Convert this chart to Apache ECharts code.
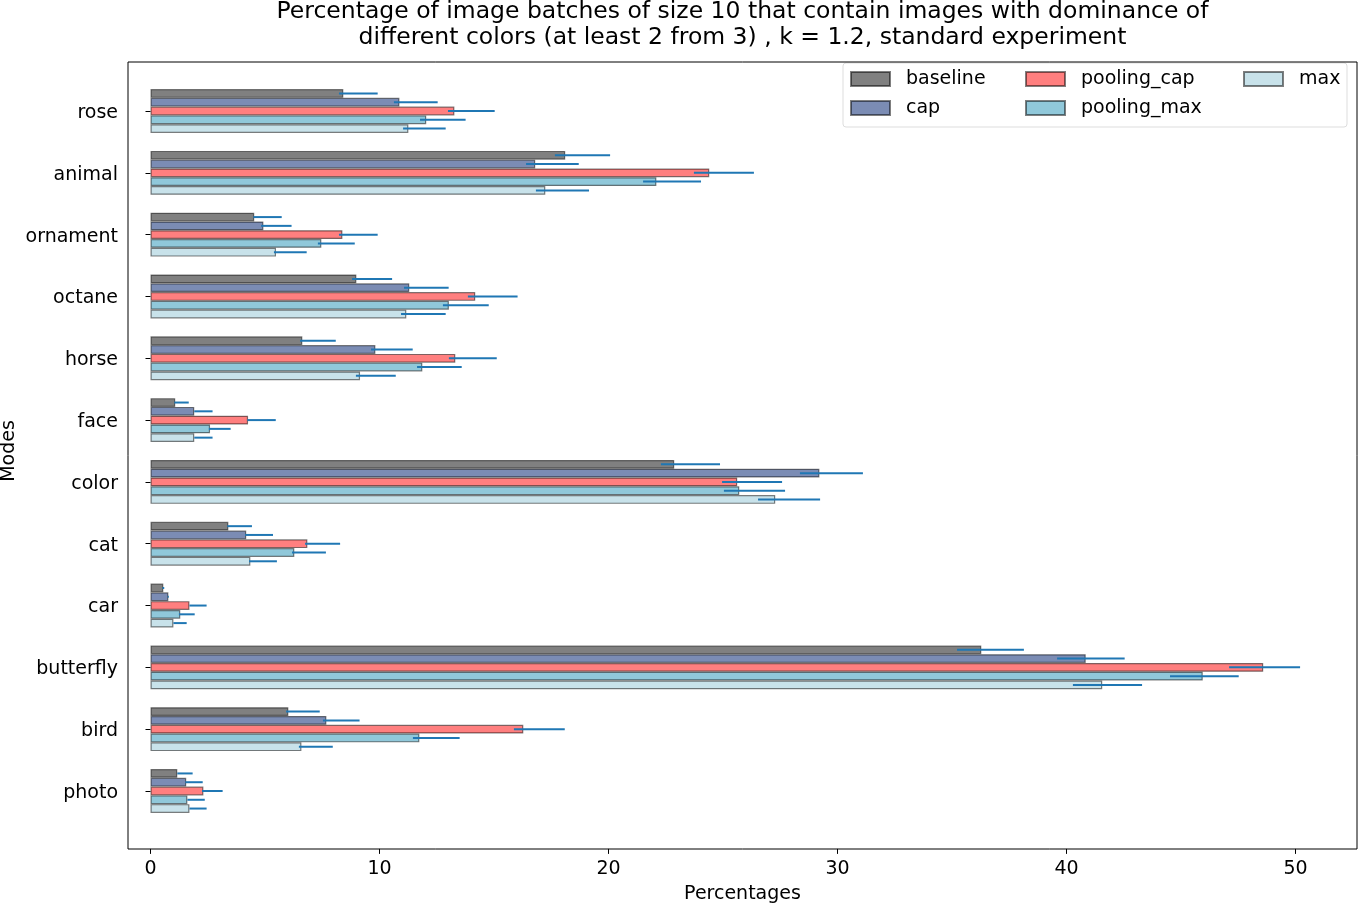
<!DOCTYPE html>
<html>
<head>
<meta charset="utf-8">
<script src="https://cdn.jsdelivr.net/npm/echarts@6/dist/echarts.min.js"></script>
<style>
  html, body { margin: 0; padding: 0; background: #fff; }
  #chart { width: 1359px; height: 903px; }
</style>
</head>
<body>
<div id="chart"></div>
<script>
// categories, top to bottom
var modes = ['rose', 'animal', 'ornament', 'octane', 'horse', 'face', 'color', 'cat', 'car', 'butterfly', 'bird', 'photo'];
var seriesNames = ['baseline', 'cap', 'pooling_cap', 'pooling_max', 'max'];
var xTicks = [0, 10, 20, 30, 40, 50];

var baseline    = [8.42, 18.11, 4.53, 8.99, 6.63, 1.08, 22.87, 3.40, 0.56, 36.28, 6.02, 1.17];
var baselineLo  = [8.23, 17.66, 4.49, 8.80, 6.53, 1.04, 22.29, 3.35, 0.52, 35.22, 5.92, 1.17];
var baselineHi  = [9.92, 20.07, 5.73, 10.55, 8.09, 1.67, 24.87, 4.43, 0.60, 38.14, 7.39, 1.84];

var cap         = [10.87, 16.80, 4.93, 11.30, 9.82, 1.91, 29.21, 4.18, 0.78, 40.84, 7.68, 1.56];
var capLo       = [10.63, 16.40, 4.83, 11.07, 9.63, 1.91, 28.36, 4.13, 0.75, 39.59, 7.53, 1.52];
var capHi       = [12.54, 18.70, 6.16, 13.02, 11.45, 2.71, 31.11, 5.35, 0.80, 42.54, 9.13, 2.28];

var poolingCap   = [13.27, 24.40, 8.38, 14.18, 13.31, 4.26, 25.62, 6.85, 1.70, 48.59, 16.28, 2.31];
var poolingCapLo = [12.99, 23.73, 8.23, 13.86, 13.03, 4.23, 24.96, 6.75, 1.70, 47.10, 15.87, 2.25];
var poolingCapHi = [15.03, 26.35, 9.92, 16.03, 15.12, 5.47, 27.58, 8.28, 2.45, 50.20, 18.09, 3.15];

var poolingMax   = [12.04, 22.09, 7.46, 13.03, 11.87, 2.60, 25.71, 6.28, 1.30, 45.95, 11.74, 1.61];
var poolingMaxLo = [11.77, 21.51, 7.31, 12.77, 11.64, 2.55, 25.04, 6.18, 1.24, 44.52, 11.46, 1.61];
var poolingMaxHi = [13.76, 24.04, 8.92, 14.77, 13.59, 3.50, 27.71, 7.66, 1.93, 47.52, 13.50, 2.37];

var maxV   = [11.26, 17.24, 5.48, 11.17, 9.15, 1.91, 27.28, 4.36, 1.00, 41.56, 6.59, 1.70];
var maxLo  = [11.03, 16.83, 5.39, 10.94, 8.97, 1.91, 26.53, 4.30, 1.00, 40.28, 6.48, 1.70];
var maxHi  = [12.89, 19.15, 6.82, 12.89, 10.71, 2.71, 29.24, 5.52, 1.58, 43.30, 7.96, 2.45];

var values = [baseline, cap, poolingCap, poolingMax, maxV];
var lows   = [baselineLo, capLo, poolingCapLo, poolingMaxLo, maxLo];
var highs  = [baselineHi, capHi, poolingCapHi, poolingMaxHi, maxHi];
var colors = ['#808080', '#7b8cb4', '#ff7f7f', '#90c8da', '#c8e2ea'];

var FONT = 'DejaVu Sans';
var FS = 19;
var BAR_FRAC = 0.142;

function run() {
  var chart = echarts.init(document.getElementById('chart'));

  var series = [];
  seriesNames.forEach(function (name, k) {
    series.push({
      name: name,
      type: 'bar',
      data: values[k],
      barWidth: (BAR_FRAC * 100) + '%',
      barGap: '0%',
      itemStyle: { color: colors[k], borderColor: 'rgba(0,0,0,0.5)', borderWidth: 1.2 },
      emphasis: { disabled: true },
      z: 2
    });
  });
  // error bars
  seriesNames.forEach(function (name, k) {
    var d = modes.map(function (m, i) { return [lows[k][i], highs[k][i], i]; });
    series.push({
      name: name + '_err',
      type: 'custom',
      data: d,
      encode: { x: [0, 1], y: 2 },
      z: 5,
      silent: true,
      renderItem: function (params, api) {
        var a = api.coord([api.value(0), api.value(2)]);
        var b = api.coord([api.value(1), api.value(2)]);
        var band = api.size([0, 1])[1];
        var w = band * BAR_FRAC;
        var y = a[1] + (k - 2) * w;
        return {
          type: 'line',
          shape: { x1: a[0], y1: y, x2: b[0], y2: y },
          style: { stroke: '#1f77b4', lineWidth: 2 }
        };
      }
    });
  });

  var legendBase = {
    orient: 'vertical',
    icon: 'rect',
    padding: 0,
    itemWidth: 39,
    itemHeight: 14,
    itemGap: 9,
    textStyle: { fontFamily: FONT, fontSize: FS, lineHeight: 20, color: '#000', padding: [0, 0, 0, 11] },
    selectedMode: false,
    top: 69
  };

  chart.setOption({
    animation: false,
    backgroundColor: '#fff',
    title: {
      text: 'Percentage of image batches of size 10 that contain images with dominance of\ndifferent colors (at least 2 from 3) , k = 1.2, standard experiment',
      left: 742.5,
      top: -1,
      padding: 0,
      textAlign: 'center',
      textStyle: { fontFamily: FONT, fontSize: 23.5, fontWeight: 'normal', color: '#000', lineHeight: 26 }
    },
    legend: [
      Object.assign({}, legendBase, { left: 850, data: ['baseline', 'cap'] }),
      Object.assign({}, legendBase, { left: 1025, data: ['pooling_cap', 'pooling_max'] }),
      Object.assign({}, legendBase, { left: 1243, data: ['max'] })
    ],
    grid: { left: 150.5, right: 63.5, top: 80.1, bottom: 81.1, outerBoundsMode: 'none' },
    xAxis: {
      type: 'value',
      min: xTicks[0],
      max: xTicks[xTicks.length - 1],
      interval: 10,
      offset: 27,
      name: 'Percentages',
      nameLocation: 'middle',
      nameGap: 36,
      nameMoveOverlap: false,
      nameTextStyle: { fontFamily: FONT, fontSize: FS, color: '#000', padding: [0, 0, 0, 39] },
      axisLine: { show: false },
      axisTick: { show: true, length: 5, lineStyle: { color: '#000' } },
      axisLabel: { fontFamily: FONT, fontSize: FS, color: '#000', margin: 11 },
      splitLine: { show: false }
    },
    yAxis: {
      type: 'category',
      data: modes,
      inverse: true,
      offset: 22.5,
      name: 'Modes',
      nameLocation: 'middle',
      nameRotate: 90,
      nameGap: 109,
      nameMoveOverlap: false,
      nameTextStyle: { fontFamily: FONT, fontSize: FS, color: '#000' },
      axisLine: { show: false },
      axisTick: { show: true, alignWithLabel: true, length: 5, lineStyle: { color: '#000' } },
      axisLabel: { fontFamily: FONT, fontSize: FS, color: '#000', margin: 10, interval: 0, verticalAlign: 'top', lineHeight: 4 },
      splitLine: { show: false }
    },
    graphic: [
      {
        type: 'rect',
        shape: { x: 128, y: 62, width: 1229, height: 787 },
        style: { fill: 'none', stroke: '#000', lineWidth: 1 },
        silent: true,
        z: 10
      },
      {
        type: 'rect',
        shape: { x: 843, y: 63, width: 504, height: 64, r: 3 },
        style: { fill: 'rgba(255,255,255,0.8)', stroke: '#dddddd', lineWidth: 1 },
        silent: true,
        z: 1
      }
    ],
    series: series
  });
}

if (document.readyState !== 'loading') {
  run();
} else {
  document.addEventListener('DOMContentLoaded', run);
}
</script>
</body>
</html>
